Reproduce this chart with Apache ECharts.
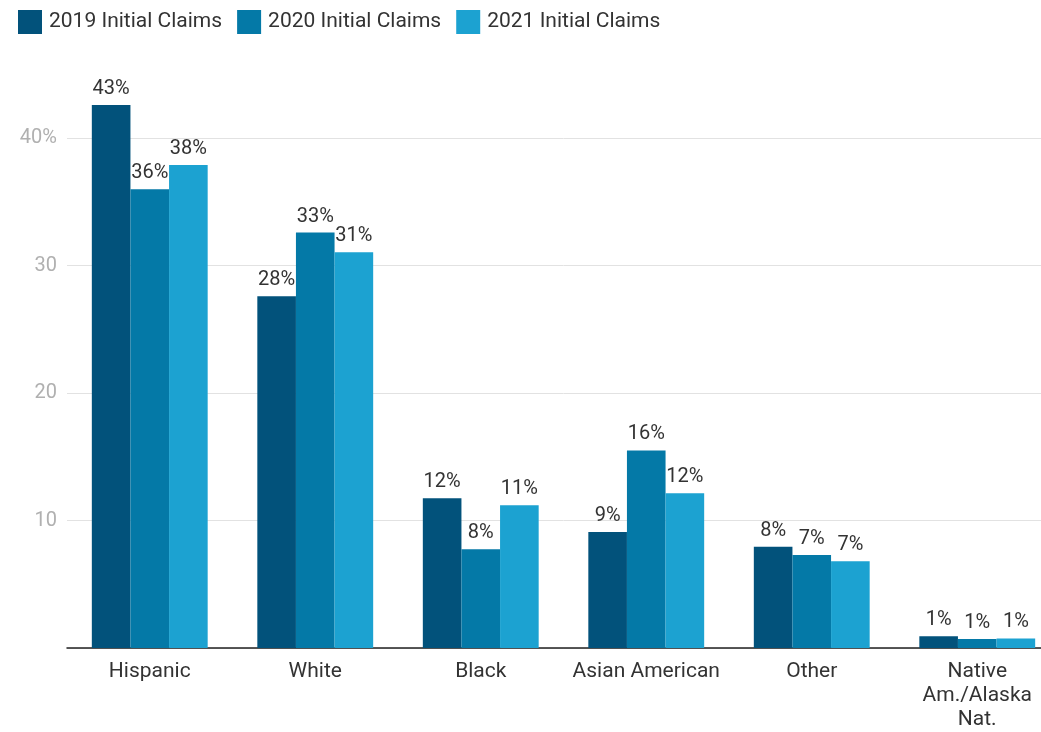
<!DOCTYPE html>
<html>
<head>
<meta charset="utf-8">
<title>Initial Claims by Race/Ethnicity</title>
<script src="https://cdn.jsdelivr.net/npm/echarts@6/dist/echarts.min.js"></script>
<style>
  html, body { margin: 0; padding: 0; background: #ffffff; overflow: hidden; }
  /* the plot runs off the right edge of the page, as in the published graphic */
  #chart { width: 1060px; height: 732px; }
</style>
</head>
<body>
<div id="chart"></div>
<script>
// Share of initial unemployment claims by race/ethnicity (percent)
const categories = ['Hispanic', 'White', 'Black', 'Asian American', 'Other', 'Native\nAm./Alaska\nNat.'];
const seriesNames = ['2019 Initial Claims', '2020 Initial Claims', '2021 Initial Claims'];
const claims2019 = [42.6, 27.6, 11.75, 9.1, 7.95, 0.93];
const claims2020 = [36.0, 32.6, 7.75, 15.5, 7.3, 0.7];
const claims2021 = [37.9, 31.05, 11.2, 12.15, 6.8, 0.75];
const yTicks = [0, 10, 20, 30, 40];
const yTickLabels = ['', '10', '20', '30', '40%'];

const colors = ['#02527b', '#0479a7', '#1ca2d1'];
const font = 'Roboto, "Noto Sans", sans-serif';

const chart = echarts.init(document.getElementById('chart'), null, { renderer: 'canvas' });

function makeSeries(name, values) {
  return {
    name: name,
    type: 'bar',
    data: values,
    barGap: '0%',
    barCategoryGap: '30%',
    label: {
      show: true,
      position: 'top',
      distance: 6,
      color: '#333333',
      fontFamily: font,
      fontSize: 20,
      formatter: p => Math.round(p.value) + '%'
    }
  };
}

chart.setOption({
  animation: false,
  color: colors,
  textStyle: { fontFamily: font },
  legend: {
    left: 18,
    top: 10,
    padding: 0,
    itemWidth: 24,
    itemHeight: 24,
    itemGap: 15,
    icon: 'rect',
    textStyle: { fontFamily: font, fontSize: 21, color: '#333333', padding: [0, 0, 0, 2] },
    data: seriesNames
  },
  grid: {
    left: 67,
    right: 0,
    top: 74.5,
    bottom: 80,
    containLabel: false
  },
  xAxis: {
    type: 'category',
    data: categories,
    axisLine: { show: true, lineStyle: { color: '#222222', width: 1.5 } },
    axisTick: { show: false },
    axisLabel: {
      interval: 0,
      margin: 12,
      color: '#333333',
      fontFamily: font,
      fontSize: 21,
      lineHeight: 24
    }
  },
  yAxis: {
    type: 'value',
    min: 0,
    max: 45,
    interval: 10,
    axisLine: { show: false },
    axisTick: { show: false },
    splitLine: {
      show: true,
      showMaxLine: false,
      lineStyle: { color: '#e2e2e2', width: 1 }
    },
    axisLabel: {
      showMaxLabel: false,
      margin: 10,
      color: '#b0b0b0',
      fontFamily: font,
      fontSize: 20,
      formatter: v => {
        const i = yTicks.indexOf(v);
        return i >= 0 ? yTickLabels[i] : '';
      }
    }
  },
  series: [
    makeSeries(seriesNames[0], claims2019),
    makeSeries(seriesNames[1], claims2020),
    makeSeries(seriesNames[2], claims2021)
  ]
});
</script>
</body>
</html>
